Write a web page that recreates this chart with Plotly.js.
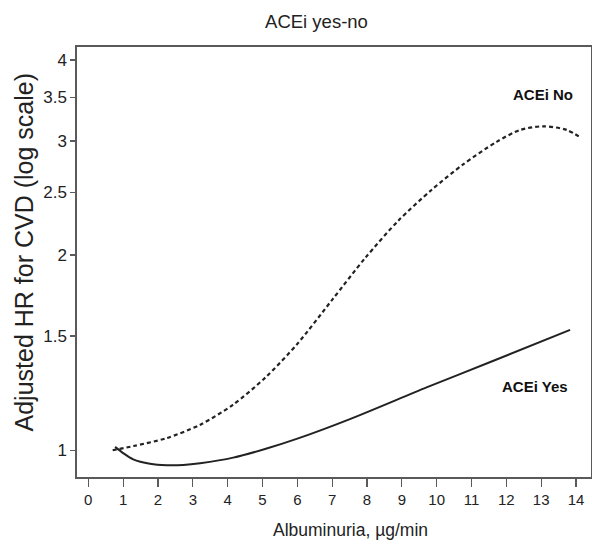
<!DOCTYPE html>
<html>
<head>
<meta charset="utf-8">
<script src="https://cdn.plot.ly/plotly-3.0.1.min.js"></script>
<style>html,body{margin:0;padding:0;background:#fff;}#chart{width:592px;height:546px;}</style>
</head>
<body>
<div id="chart"></div>
<script>
// Data
const noX  = [0.70, 1.3, 2.25, 3.2, 4.15, 5.1, 6.0, 7.0, 7.95, 8.9, 9.85, 10.76, 11.72, 12.4, 13.06, 13.73, 14.16];
const noY  = [1.000, 1.015, 1.044, 1.094, 1.175, 1.297, 1.459, 1.706, 1.98, 2.26, 2.52, 2.76, 2.99, 3.12, 3.16, 3.12, 3.03];
const yesX = [0.77, 1.0, 1.29, 1.77, 2.25, 2.73, 3.21, 4.16, 5.12, 5.98, 7.51, 9.71, 11.63, 13.83];
const yesY = [1.012, 0.990, 0.968, 0.953, 0.948, 0.949, 0.955, 0.974, 1.006, 1.041, 1.117, 1.25, 1.374, 1.533];
const xTicks = [0,1,2,3,4,5,6,7,8,9,10,11,12,13,14];
const yTicks = [1, 1.5, 2, 2.5, 3, 3.5, 4];
const yTickText = ["1", "1.5", "2", "2.5", "3", "3.5", "4"];
const titleText = "ACEi yes-no";
const xTitle = "Albuminuria, µg/min";
const yTitle = "Adjusted HR for CVD (log scale)";
const labelNo = {text: "ACEi No", x: 13.05, y: 3.544};
const labelYes = {text: "ACEi Yes", x: 12.81, y: 1.253};

const font = 'Arial, "Liberation Sans", sans-serif';
const ink = '#222';
const frame = '#5a5a5a';

const traces = [
  {x: noX, y: noY, type: 'scatter', mode: 'lines', name: 'ACEi No',
   line: {color: ink, width: 2.2, dash: '4px,3px', shape: 'spline', smoothing: 0.8}},
  {x: yesX, y: yesY, type: 'scatter', mode: 'lines', name: 'ACEi Yes',
   line: {color: ink, width: 2, shape: 'spline', smoothing: 0.8}}
];

const layout = {
  width: 592, height: 546,
  margin: {l: 77, r: 1, t: 47, b: 69, pad: 0},
  paper_bgcolor: '#fff', plot_bgcolor: '#fff',
  showlegend: false,
  title: {text: titleText, font: {family: font, size: 18.5, color: '#222'},
          x: 316.5/592, xref: 'container', xanchor: 'center',
          y: 1 - 22/546, yref: 'container', yanchor: 'middle'},
  xaxis: {
    range: [-0.324, 14.43], tickvals: xTicks, ticktext: xTicks.map(String),
    showgrid: false, zeroline: false,
    showline: true, mirror: true, linecolor: frame, linewidth: 1.6,
    ticks: 'outside', ticklen: 8, tickwidth: 1.2, tickcolor: frame,
    tickfont: {family: font, size: 15, color: '#222'}
  },
  yaxis: {
    type: 'log', range: [-0.0413, 0.622],
    tickvals: yTicks, ticktext: yTickText,
    showgrid: false, zeroline: false,
    showline: true, mirror: true, linecolor: frame, linewidth: 1.6,
    ticks: 'outside', ticklen: 5, tickwidth: 1.2, tickcolor: frame,
    tickfont: {family: font, size: 17, color: '#222'}
  },
  annotations: [
    {x: (350 - 77) / 514, y: -(530 - 477) / 430, xref: 'paper', yref: 'paper', text: xTitle,
     showarrow: false, font: {family: font, size: 17.5, color: '#222'}, xanchor: 'center', yanchor: 'middle'},
    {x: (23.5 - 77) / 514, y: (477 - 253) / 430, xref: 'paper', yref: 'paper', text: yTitle, textangle: -90,
     showarrow: false, font: {family: font, size: 25, color: '#222'}, xanchor: 'center', yanchor: 'middle'},
    {x: labelNo.x, y: Math.log10(labelNo.y), xref: 'x', yref: 'y', text: '<b>' + labelNo.text + '</b>',
     showarrow: false, font: {family: font, size: 15, color: '#111'}, xanchor: 'center', yanchor: 'middle'},
    {x: labelYes.x, y: Math.log10(labelYes.y), xref: 'x', yref: 'y', text: '<b>' + labelYes.text + '</b>',
     showarrow: false, font: {family: font, size: 15, color: '#111'}, xanchor: 'center', yanchor: 'middle'}
  ]
};

Plotly.newPlot('chart', traces, layout, {displayModeBar: false, staticPlot: true});
</script>
</body>
</html>
